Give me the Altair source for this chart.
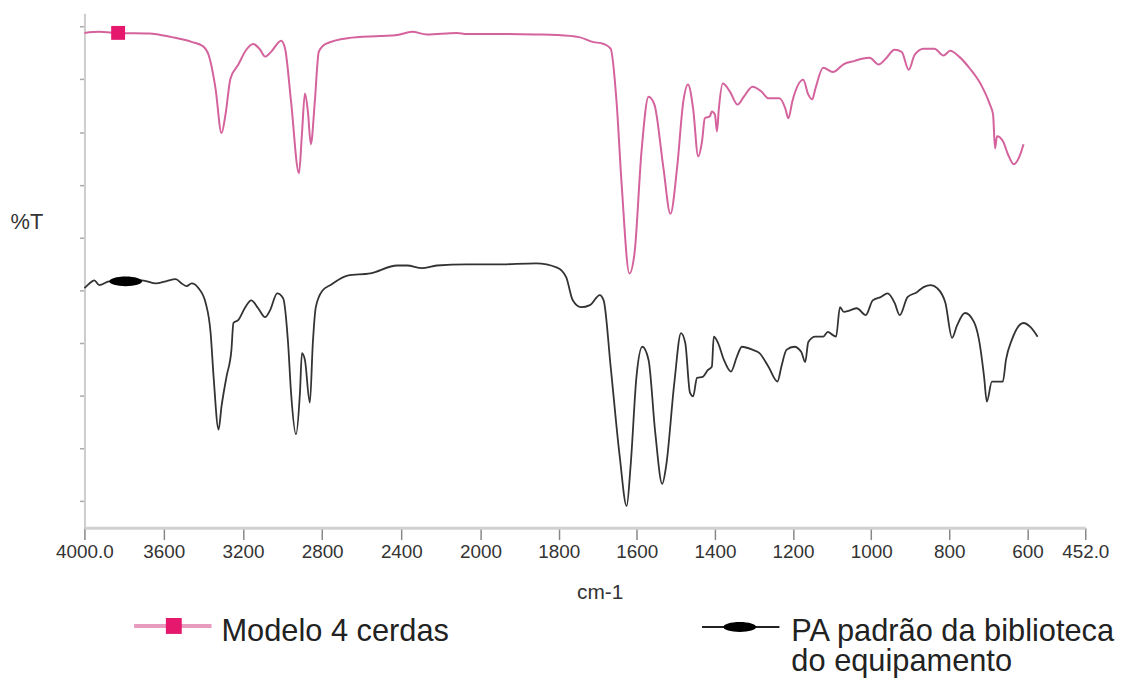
import altair as alt
import pandas as pd

# ---- data (wavenumber cm-1, %T in arbitrary offset units) ----
pink_cm = [4000, 3925, 3830, 3674, 3559, 3459, 3403, 3373, 3338, 3308, 3288, 3263, 3223, 3183,
           3148, 3113, 3088, 3058, 3007, 2987, 2957, 2917, 2902, 2887, 2872, 2857, 2837, 2817,
           2782, 2672, 2506, 2421, 2346, 2271, 2120, 2070, 1959, 1858, 1804, 1748, 1713, 1685,
           1667, 1652, 1639, 1619, 1606, 1588, 1570, 1555, 1532, 1514, 1497, 1481, 1469, 1456,
           1443, 1433, 1426, 1413, 1408, 1400, 1395, 1390, 1380, 1362, 1342, 1326, 1304, 1281,
           1263, 1235, 1220, 1212, 1202, 1174, 1161, 1151, 1143, 1123, 1098, 1070, 1042, 1024,
           1004, 981, 963, 940, 922, 904, 889, 866, 838, 815, 798, 775, 747, 719, 696, 688, 683,
           678, 663, 650, 635, 622, 610]
pink_t = [93.8, 94.0, 93.8, 93.7, 93.0, 92.1, 91.3, 89.6, 83.2, 74.8, 78.3, 85.1, 87.8, 90.6,
          91.7, 90.6, 89.3, 90.2, 92.3, 90.8, 80.8, 67.2, 74.6, 82.3, 78.9, 72.7, 80.8, 90.2,
          91.7, 92.8, 93.2, 93.4, 94.0, 93.5, 93.8, 93.6, 93.6, 93.5, 93.4, 93.0, 92.1, 91.7,
          90.8, 80.8, 65.2, 48.2, 52.0, 71.4, 81.7, 80.2, 68.2, 59.5, 68.2, 80.8, 84.0, 79.5,
          70.4, 73.3, 77.6, 78.0, 78.9, 78.3, 75.1, 79.5, 84.2, 82.7, 80.2, 81.7, 83.6, 82.7,
          81.4, 81.4, 79.5, 77.6, 80.8, 84.9, 82.1, 81.2, 83.2, 87.2, 86.4, 87.9, 88.5, 88.9,
          89.1, 87.8, 88.9, 90.6, 90.2, 86.8, 89.6, 90.8, 90.8, 89.5, 90.4, 89.3, 87.0, 84.0,
          80.2, 78.3, 71.9, 74.2, 73.3, 70.8, 68.9, 70.1, 72.7]

black_cm = [4000, 3975, 3950, 3925, 3875, 3709, 3639, 3589, 3539, 3509, 3484, 3459, 3424, 3388,
            3363, 3348, 3323, 3308, 3283, 3258, 3248, 3223, 3188, 3158, 3123, 3088, 3063, 3027,
            2997, 2972, 2957, 2932, 2912, 2902, 2887, 2862, 2847, 2832, 2797, 2757, 2672, 2556,
            2421, 2371, 2296, 2221, 2070, 1959, 1858, 1804, 1781, 1764, 1743, 1720, 1695, 1685,
            1667, 1644, 1626, 1616, 1601, 1586, 1570, 1553, 1535, 1525, 1504, 1487, 1476, 1464,
            1456, 1446, 1431, 1418, 1408, 1403, 1392, 1377, 1359, 1344, 1331, 1303, 1286, 1263,
            1240, 1230, 1217, 1197, 1179, 1169, 1161, 1143, 1123, 1111, 1098, 1090, 1080, 1070,
            1054, 1037, 1014, 996, 976, 958, 940, 927, 907, 884, 866, 848, 831, 810, 793, 780,
            760, 737, 724, 711, 704, 691, 663, 655, 640, 610, 592, 574]
black_t = [45.4, 46.3, 46.9, 46.0, 46.7, 46.9, 46.3, 46.7, 47.1, 46.3, 45.8, 46.3, 45.4, 42.6,
           36.9, 28.6, 18.6, 23.0, 28.6, 33.7, 38.8, 39.4, 41.8, 43.1, 41.6, 39.9, 41.2, 44.4,
           43.5, 35.0, 25.6, 17.7, 25.6, 33.1, 31.8, 23.7, 35.0, 41.8, 45.0, 46.0, 47.8, 48.2,
           49.7, 49.7, 49.2, 49.7, 49.9, 49.9, 50.1, 49.3, 47.5, 43.1, 41.8, 42.2, 44.1, 43.1,
           30.5, 13.6, 4.1, 11.7, 28.6, 34.3, 31.8, 18.1, 8.3, 11.7, 27.5, 36.9, 35.0, 25.6,
           24.9, 28.4, 28.6, 29.9, 30.5, 36.2, 35.0, 31.8, 29.6, 32.4, 34.3, 33.7, 33.1, 30.5,
           27.7, 30.5, 33.7, 34.3, 33.3, 31.4, 35.2, 36.2, 36.2, 37.1, 36.5, 36.2, 41.8, 40.9,
           41.2, 41.6, 40.3, 43.1, 43.7, 44.4, 42.6, 40.3, 43.7, 44.6, 45.6, 46.0, 45.4, 42.6,
           36.0, 38.4, 40.7, 39.0, 35.6, 28.6, 23.9, 27.7, 27.7, 31.8, 35.6, 38.8, 38.0, 36.2]

# series markers on the curves
marker_cm = [3830, 3792]
marker_t = [93.8, 46.7]

x_ticks = [4000, 3600, 3200, 2800, 2400, 2000, 1800, 1600, 1400, 1200, 1000, 800, 600, 452]
y_ticks = [5, 15, 25, 35, 45, 55, 65, 75, 85, 95]

series_names = ["Modelo 4 cerdas", ["PA padrão da biblioteca", "do equipamento"]]

PINK_LINE = "#d4629c"
PINK_MARK = "#e5186e"
BLACK = "#333333"
FONT = "Liberation Sans"
ELLIPSE = "M-1,0A1,0.3,0,1,0,1,0A1,0.3,0,1,0,-1,0Z"

W, H = 1008, 518

pink_df = pd.DataFrame({"cm": pink_cm, "t": pink_t})
black_df = pd.DataFrame({"cm": black_cm, "t": black_t})
pm_df = pd.DataFrame({"cm": marker_cm[:1], "t": marker_t[:1]})
bm_df = pd.DataFrame({"cm": marker_cm[1:], "t": marker_t[1:]})

x_enc = alt.X(
    "cm:Q",
    scale=alt.Scale(domain=[4000, 2000, 452], range=[0, 399, W], nice=False, zero=False),
    axis=alt.Axis(
        values=x_ticks, format="d",
        labelExpr="datum.value == 4000 ? '4000.0' : (datum.value == 452 ? '452.0' : datum.label)",
        grid=False, labelFont=FONT, labelFontSize=19, labelColor="#333333",
        labelPadding=3, labelOverlap=False, labelFlush=False,
        tickSize=12, tickColor="#888888", tickWidth=1.5,
        domainColor="#d0d0d0", domainWidth=3,
        title="cm-1", titleFont=FONT, titleFontSize=21, titleFontWeight="normal",
        titleColor="#333333", titleX=519, titleY=65, titleAlign="center",
        titleBaseline="middle",
    ),
)
y_enc = alt.Y(
    "t:Q",
    scale=alt.Scale(domain=[0, 97.5], nice=False, zero=False),
    axis=alt.Axis(
        values=y_ticks, labels=False, grid=False,
        tickSize=5, tickColor="#aaaaaa", tickWidth=1.5,
        domainColor="#cccccc", domainWidth=2,
        title="%T", titleAngle=0, titleFont=FONT, titleFontSize=22,
        titleFontWeight="normal", titleColor="#333333",
        titleX=-75, titleY=210, titleAlign="left", titleBaseline="middle",
    ),
)

black_line = alt.Chart(black_df).mark_line(
    color=BLACK, strokeWidth=1.8, interpolate="monotone").encode(x=x_enc, y=y_enc)
pink_line = alt.Chart(pink_df).mark_line(
    color=PINK_LINE, strokeWidth=2, interpolate="monotone").encode(x="cm:Q", y="t:Q")
pink_mark = alt.Chart(pm_df).mark_point(
    shape="square", size=196, filled=True, color=PINK_MARK, opacity=1
).encode(x="cm:Q", y="t:Q")
black_mark = alt.Chart(bm_df).mark_point(
    shape=ELLIPSE, size=1089, filled=True, color="#000000", opacity=1
).encode(x="cm:Q", y="t:Q")

one = pd.DataFrame({"k": [0]})
leg_pink_line = alt.Chart(one).mark_rule(color="#e79bbf", strokeWidth=4).encode(
    x=alt.value(50), x2=alt.value(128), y=alt.value(617))
leg_pink_mark = alt.Chart(one).mark_point(
    shape="square", size=256, filled=True, color=PINK_MARK, opacity=1
).encode(x=alt.value(90), y=alt.value(617))
leg_pink_text = alt.Chart(one).mark_text(
    text=series_names[0], font=FONT, fontSize=31, color="#222222",
    align="left", baseline="alphabetic"
).encode(x=alt.value(138), y=alt.value(632))
leg_black_line = alt.Chart(one).mark_rule(color="#222222", strokeWidth=2).encode(
    x=alt.value(622), x2=alt.value(700), y=alt.value(618))
leg_black_mark = alt.Chart(one).mark_point(
    shape=ELLIPSE, size=1089, filled=True, color="#000000", opacity=1
).encode(x=alt.value(660), y=alt.value(618))
leg_black_text = alt.Chart(one).mark_text(
    text=series_names[1], font=FONT, fontSize=31, color="#222222",
    align="left", baseline="alphabetic", lineHeight=30
).encode(x=alt.value(712), y=alt.value(632))

chart = alt.layer(
    black_line, pink_line, pink_mark, black_mark,
    leg_pink_line, leg_pink_mark, leg_pink_text,
    leg_black_line, leg_black_mark, leg_black_text,
).properties(
    width=W, height=H,
    padding={"left": 77, "top": 3, "right": 36, "bottom": 150},
    autosize=alt.AutoSizeParams(type="none"),
).configure_view(strokeWidth=0)

chart.save("out.html", embed_options={"renderer": "svg", "actions": False})
